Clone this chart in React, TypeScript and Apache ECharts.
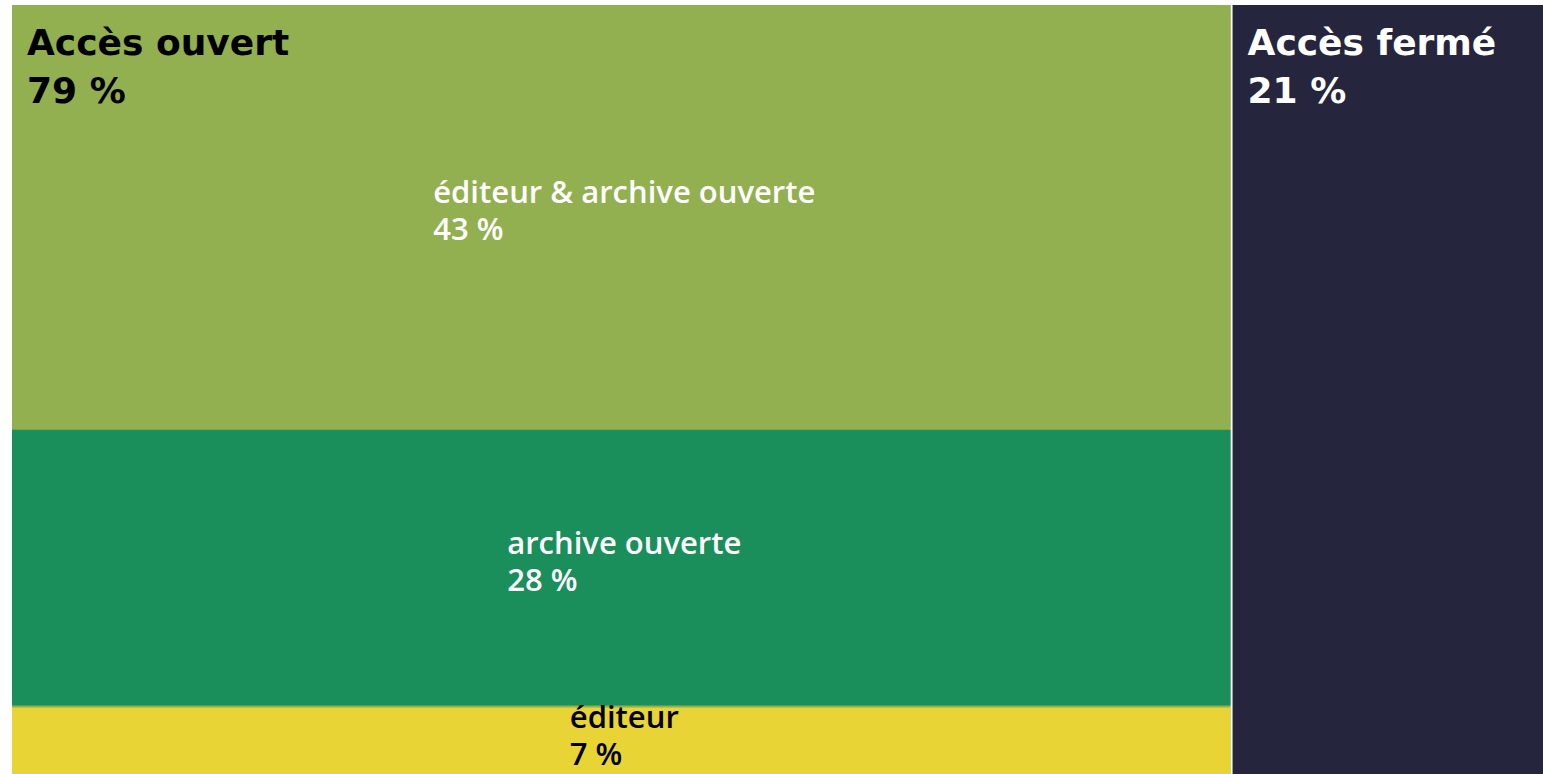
import React, { useEffect, useRef } from 'react';
import * as echarts from 'echarts';

// ---- data ----
const groupNames = ['Accès ouvert', 'Accès fermé'];
const openNames = ['éditeur & archive ouverte', 'archive ouverte', 'éditeur'];
const openValues = [43.4, 28.4, 7.2];
const closedValue = 21.0;

// ---- styles ----
const groupColors = ['#92B04F', '#25263E'];
const groupLabelColors = ['#000000', '#FFFFFF'];
const openColors = ['#92B04F', '#1A8F5C', '#E8D434'];
const openLabelColors = ['#FFFFFF', '#FFFFFF', '#000000'];

const PARENT_FONT_FAMILY = '"DejaVu Sans", sans-serif';
const CHILD_FONT_FAMILY = '"Open Sans", "DejaVu Sans", sans-serif';
const PARENT_FONT = `bold 36px ${PARENT_FONT_FAMILY}`;
const CHILD_FONT = `600 31px ${CHILD_FONT_FAMILY}`;

const pct = (v: number) => `${Math.round(v)} %`;

function measure(text: string, font: string): number {
  const ctx = document.createElement('canvas').getContext('2d');
  if (!ctx) return 0;
  ctx.font = font;
  return Math.max(...text.split('\n').map((l) => ctx.measureText(l).width));
}

export default function App() {
  const ref = useRef<HTMLDivElement>(null);

  useEffect(() => {
    if (!ref.current) return;
    const chart = echarts.init(ref.current, undefined, { renderer: 'svg' });

    const openTotal = openValues.reduce((a, b) => a + b, 0);
    const total = openTotal + closedValue;
    const groupValues = [openTotal, closedValue];

    // parent rects: [x0, x1, y0, y1] in percent of the whole
    const parentRows: number[][] = [];
    let cx = 0;
    groupValues.forEach((v) => {
      parentRows.push([(cx / total) * 100, ((cx + v) / total) * 100, 0, 100]);
      cx += v;
    });

    // children rects inside the "Accès ouvert" column
    const childRows: number[][] = [];
    let cy = 0;
    openValues.forEach((v) => {
      childRows.push([parentRows[0][0], parentRows[0][1], (cy / openTotal) * 100, ((cy + v) / openTotal) * 100]);
      cy += v;
    });

    const rectOf = (api: any) => {
      const a = api.coord([api.value(0), api.value(2)]);
      const b = api.coord([api.value(1), api.value(3)]);
      return { x: a[0] + 1, y: a[1] + 1, width: b[0] - a[0] - 2, height: b[1] - a[1] - 2 };
    };

    chart.setOption({
      animation: false,
      backgroundColor: '#ffffff',
      grid: { left: 0, right: 0, top: 0, bottom: 0 },
      xAxis: { type: 'value', min: 0, max: 100, show: false },
      yAxis: { type: 'value', min: 0, max: 100, inverse: true, show: false },
      tooltip: { show: false },
      series: [
        {
          type: 'custom',
          z: 1,
          silent: true,
          data: parentRows,
          encode: { x: [0, 1], y: [2, 3] },
          renderItem: (params: any, api: any) => {
            const r = rectOf(api);
            return { type: 'rect', shape: r, style: { fill: groupColors[params.dataIndex] } };
          },
        },
        {
          type: 'custom',
          z: 2,
          silent: true,
          data: childRows,
          encode: { x: [0, 1], y: [2, 3] },
          renderItem: (params: any, api: any) => {
            const i = params.dataIndex;
            const r = rectOf(api);
            const text = `${openNames[i]}\n${pct(openValues[i])}`;
            const w = measure(text, CHILD_FONT);
            return {
              type: 'group',
              children: [
                { type: 'rect', shape: r, style: { fill: openColors[i] } },
                {
                  type: 'text',
                  x: r.x + r.width / 2 - w / 2 + 3,
                  y: r.y + r.height / 2 - 7,
                  style: {
                    text,
                    fill: openLabelColors[i],
                    font: CHILD_FONT,
                    lineHeight: 37,
                    align: 'left',
                    verticalAlign: 'middle',
                  },
                },
              ],
            };
          },
        },
        {
          type: 'custom',
          z: 3,
          silent: true,
          data: parentRows,
          encode: { x: [0, 1], y: [2, 3] },
          renderItem: (params: any, api: any) => {
            const i = params.dataIndex;
            const r = rectOf(api);
            return {
              type: 'text',
              x: r.x + 15,
              y: r.y + 13,
              style: {
                text: `${groupNames[i]}\n${pct(groupValues[i])}`,
                fill: groupLabelColors[i],
                font: PARENT_FONT,
                lineHeight: 48,
                align: 'left',
                verticalAlign: 'top',
              },
            };
          },
        },
      ],
    });

    return () => chart.dispose();
  }, []);

  return (
    <div
      style={{
        position: 'fixed',
        left: 0,
        top: 0,
        width: 1543,
        height: 774,
        overflow: 'hidden',
        background: '#ffffff',
      }}
    >
      <div ref={ref} style={{ position: 'absolute', left: 11, top: 4, width: 1545, height: 773 }} />
    </div>
  );
}
